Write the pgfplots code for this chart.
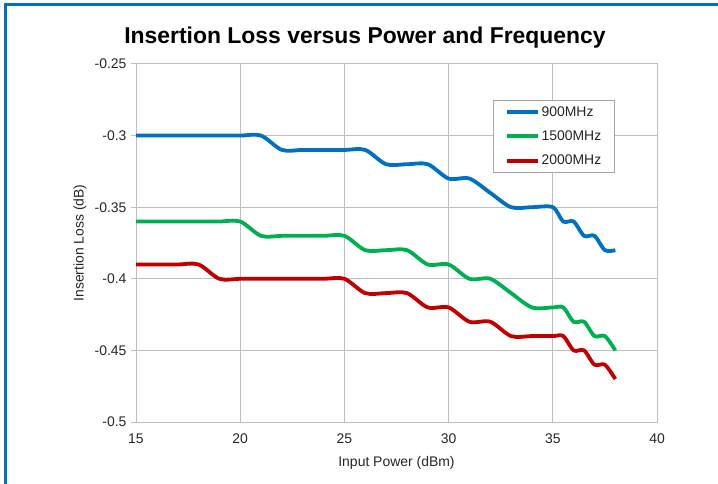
\documentclass[border=0pt]{standalone}
\usepackage{pgfplots}
\pgfplotsset{compat=1.18}
\usepackage{pgfplotstable}
\usepackage{fontspec}
\setmainfont{Liberation Sans}
\definecolor{cblue}{RGB}{0,112,192}
\definecolor{cgreen}{RGB}{0,176,80}
\definecolor{cred}{RGB}{192,0,0}
\definecolor{cgrid}{RGB}{191,191,191}
\definecolor{cframe}{RGB}{0,112,192}

\pgfplotstableread{
x y
15 -0.30
16 -0.30
17 -0.30
18 -0.30
19 -0.30
20 -0.30
21 -0.30
22 -0.31
23 -0.31
24 -0.31
25 -0.31
26 -0.31
27 -0.32
28 -0.32
29 -0.32
30 -0.33
31 -0.33
32 -0.34
33 -0.35
34 -0.35
35 -0.35
35.5 -0.36
36 -0.36
36.5 -0.37
37 -0.37
37.5 -0.38
38 -0.38
}\tblue

\pgfplotstableread{
x y
15 -0.36
16 -0.36
17 -0.36
18 -0.36
19 -0.36
20 -0.36
21 -0.37
22 -0.37
23 -0.37
24 -0.37
25 -0.37
26 -0.38
27 -0.38
28 -0.38
29 -0.39
30 -0.39
31 -0.40
32 -0.40
33 -0.41
34 -0.42
35 -0.42
35.5 -0.42
36 -0.43
36.5 -0.43
37 -0.44
37.5 -0.44
38 -0.45
}\tgreen

\pgfplotstableread{
x y
15 -0.39
16 -0.39
17 -0.39
18 -0.39
19 -0.40
20 -0.40
21 -0.40
22 -0.40
23 -0.40
24 -0.40
25 -0.40
26 -0.41
27 -0.41
28 -0.41
29 -0.42
30 -0.42
31 -0.43
32 -0.43
33 -0.44
34 -0.44
35 -0.44
35.5 -0.44
36 -0.45
36.5 -0.45
37 -0.46
37.5 -0.46
38 -0.47
}\tred

\begin{document}
\begin{tikzpicture}
\path[use as bounding box] (0bp,0bp) rectangle (718bp,484bp);
\fill[white] (0bp,0bp) rectangle (718bp,484bp);
\draw[cframe, line width=3bp] (5.5bp,0bp) -- (5.5bp,479.5bp) -- (718bp,479.5bp);
\node[font=\fontsize{23}{26}\selectfont\bfseries] at (365bp,446bp) {Insertion Loss versus Power and Frequency};
\begin{axis}[
  at={(136bp,62bp)}, anchor=south west,
  scale only axis, width=521bp, height=358bp,
  xmin=15, xmax=40, ymin=-0.5, ymax=-0.25,
  xtick={15,20,25,30,35,40},
  xticklabels={15,20,25,30,35,40},
  ytick={-0.5,-0.45,-0.4,-0.35,-0.3,-0.25},
  yticklabels={-0.5,-0.45,-0.4,-0.35,-0.3,-0.25},
  grid=major,
  major grid style={cgrid, line width=1bp},
  axis line style={cgrid, line width=1bp},
  tick style={cgrid, line width=1bp},
  xtick style={draw=none},
  ytick pos=left,
  tick align=outside,
  major tick length=5bp,
  ticklabel style={font=\fontsize{14}{16}\selectfont, color=black!85},
  xticklabel style={yshift=-3bp},
  yticklabel style={xshift=-1bp},
  xlabel={Input Power (dBm)},
  ylabel={Insertion Loss (dB)},
  every axis x label/.style={at={(axis description cs:0.5,-0.114)}, anchor=center,
    font=\fontsize{14}{16}\selectfont, color=black!85},
  every axis y label/.style={at={(axis description cs:-0.1075,0.5)}, rotate=90, anchor=center,
    font=\fontsize{14}{16}\selectfont, color=black!85},
  legend style={at={(axis description cs:0.685,0.899)}, anchor=north west,
    draw=gray!70, line width=0.8bp, fill=white, font=\fontsize{14}{16}\selectfont,
    text=black!85, inner xsep=12bp, inner ysep=4bp, row sep=9bp,
    nodes={inner xsep=1.5bp}},
  legend cell align=left,
  legend image code/.code={\draw[#1] (0bp,0bp) -- (31bp,0bp);},
  every axis plot/.append style={line width=3.8bp, smooth, no markers},
]
\addplot[cblue] table {\tblue};
\addlegendentry{900MHz}
\addplot[cgreen] table {\tgreen};
\addlegendentry{1500MHz}
\addplot[cred] table {\tred};
\addlegendentry{2000MHz}
\end{axis}
\end{tikzpicture}
\end{document}
